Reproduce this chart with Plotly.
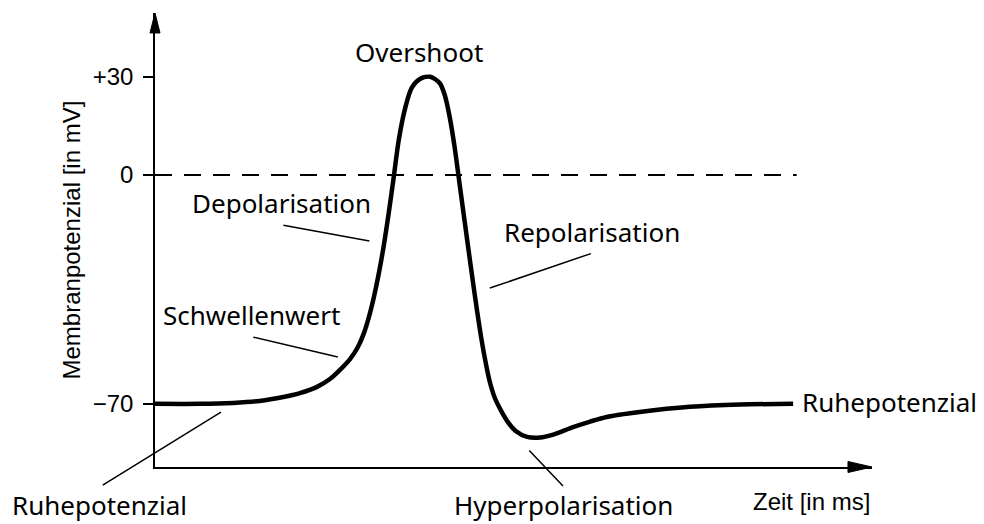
import plotly.graph_objects as go

# Action potential curve (time in arbitrary ms units, membrane potential in mV)
time_ms = [0.00, 0.63, 1.09, 1.46, 1.79, 2.02, 2.26, 2.44, 2.58, 2.72, 2.83, 2.91, 2.98,
           3.05, 3.12, 3.19, 3.26, 3.33, 3.40, 3.49, 3.58, 3.70, 3.84,
           3.97, 4.04, 4.11, 4.18, 4.25, 4.32, 4.39, 4.46, 4.53, 4.60, 4.67, 4.74,
           4.83, 4.92, 5.03, 5.19, 5.37, 5.54, 5.83, 6.07, 6.30, 6.76, 7.46, 8.16, 8.90]
potential_mv = [-70.0, -70.0, -69.7, -69.1, -67.9, -66.7, -64.8, -62.4, -59.6, -56.3, -52.6, -48.6, -43.7,
                -37.6, -30.3, -21.7, -11.6, -0.6, 10.7, 20.5, 26.6, 29.4, 30.0,
                28.1, 24.5, 17.7, 8.3, -3.1, -14.4, -25.7, -36.7, -47.1, -56.0, -63.3, -68.2,
                -72.2, -75.5, -78.3, -80.1, -80.3, -79.5, -77.1, -75.4, -74.0, -72.5, -70.9, -70.2, -70.0]

zero_line_t = [0.0, 8.95]
zero_line_v = [0.0, 0.0]

tick_values = [30, 0, -70]
tick_labels = ["+30", "0", "\u221270"]

Y_MIN, Y_MAX = -89.3, 49.5
X_MIN, X_MAX = 0.0, 10.0

# Labels: (text, text_t, text_v, pointer_tail_t, pointer_tail_v, pointer_head_t, pointer_head_v)
pointer_labels = [
    ("Depolarisation", 1.77, -8.6, 1.77, -15.3, 2.99, -20.2),
    ("Schwellenwert", 1.35, -42.8, 1.35, -49.5, 2.55, -55.7),
    ("Repolarisation", 6.10, -17.4, 6.10, -23.9, 4.67, -34.6),
    ("Ruhepotenzial", -0.77, -100.9, -0.75, -95.1, 0.92, -72.5),
    ("Hyperpolarisation", 5.70, -100.9, 5.20, -83.8, 5.69, -95.1),
]
overshoot_label = ("Overshoot", 3.68, 37.6)
rest_label_right = ("Ruhepotenzial", 8.99, -69.4)
x_title = ("Zeit [in ms]", 9.15, -99.7)
y_title = "Membranpotenzial [in mV]"

label_font = dict(family="Noto Sans, Open Sans, sans-serif", size=26, color="black")
axis_font = dict(family="Liberation Sans, Arial, sans-serif", size=24, color="black")


def to_paper(t, v):
    return (t - X_MIN) / (X_MAX - X_MIN), (v - Y_MIN) / (Y_MAX - Y_MIN)


fig = go.Figure()

fig.add_trace(go.Scatter(
    x=zero_line_t, y=zero_line_v, mode="lines",
    line=dict(color="black", width=2, dash="17px,12px"),
    hoverinfo="skip", showlegend=False,
))

fig.add_trace(go.Scatter(
    x=time_ms, y=potential_mv, mode="lines",
    line=dict(color="black", width=4.5, shape="spline", smoothing=0.8),
    showlegend=False,
))

annotations = []
for text, tt, tv, at, av, ht, hv in pointer_labels:
    px, py = to_paper(tt, tv)
    annotations.append(dict(x=px, y=py, xref="paper", yref="paper", text=text, showarrow=False,
                            font=label_font, xanchor="center", yanchor="middle"))
    annotations.append(dict(x=ht, y=hv, ax=at, ay=av, xref="x", yref="y", axref="x", ayref="y",
                            text="", showarrow=True, arrowhead=0, arrowwidth=1.5,
                            arrowcolor="black", standoff=0, startstandoff=0))

px, py = to_paper(overshoot_label[1], overshoot_label[2])
annotations.append(dict(x=px, y=py, xref="paper", yref="paper",
                        text=overshoot_label[0], showarrow=False, font=label_font,
                        xanchor="center", yanchor="middle"))
px, py = to_paper(rest_label_right[1], rest_label_right[2])
annotations.append(dict(x=px, y=py, xref="paper", yref="paper",
                        text=rest_label_right[0], showarrow=False, font=label_font,
                        xanchor="left", yanchor="middle"))
px, py = to_paper(x_title[1], x_title[2])
annotations.append(dict(x=px, y=py, xref="paper", yref="paper",
                        text=x_title[0], showarrow=False, font=axis_font,
                        xanchor="center", yanchor="middle"))
annotations.append(dict(x=-0.1165, y=0.5, xref="paper", yref="paper", text=y_title,
                        textangle=-90, showarrow=False, font=axis_font,
                        xanchor="center", yanchor="middle"))

shapes = [
    # arrowhead on the time axis
    dict(type="path", xref="paper", yref="paper",
         path="M 1 0 L 0.9665 0.0121 L 0.9665 -0.0121 Z",
         fillcolor="black", line=dict(color="black", width=1)),
    # arrowhead on the potential axis
    dict(type="path", xref="paper", yref="paper",
         path="M 0 1 L -0.007 0.956 L 0.007 0.956 Z",
         fillcolor="black", line=dict(color="black", width=1)),
]

fig.update_layout(
    width=976, height=516,
    margin=dict(l=147, r=112, t=5, b=57),
    paper_bgcolor="white", plot_bgcolor="white",
    annotations=annotations, shapes=shapes,
    showlegend=False,
)
fig.update_xaxes(range=[X_MIN, X_MAX], showline=True, linecolor="black", linewidth=1.5,
                 showgrid=False, zeroline=False, showticklabels=False, ticks="")
fig.update_yaxes(range=[Y_MIN, Y_MAX], showline=True, linecolor="black", linewidth=1.5,
                 showgrid=False, zeroline=False, tickvals=tick_values, ticktext=tick_labels,
                 ticks="outside", ticklen=10, tickwidth=1.5, tickcolor="black",
                 tickfont=axis_font, ticklabelstandoff=5)

fig.write_html("out.html")
